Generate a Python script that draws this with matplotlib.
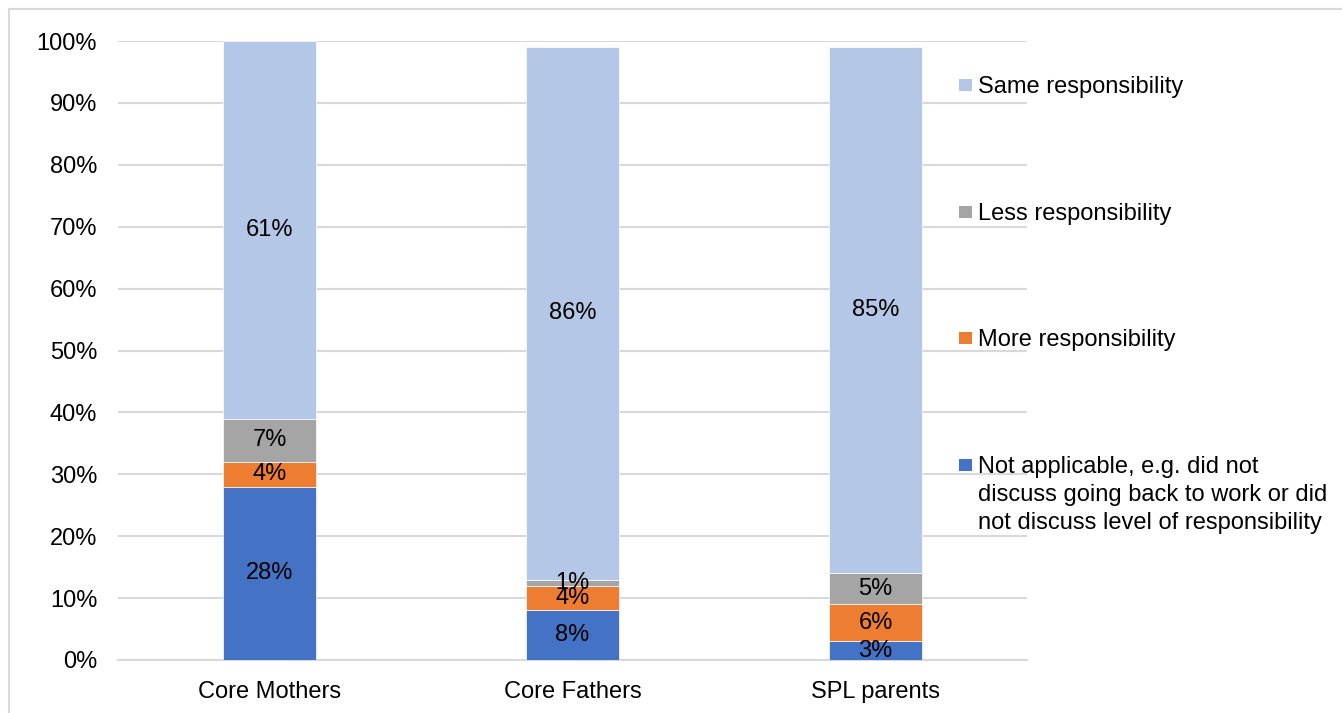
import matplotlib.pyplot as plt
import matplotlib.patches as patches
import numpy as np

plt.rcParams['font.family'] = ['Liberation Sans', 'DejaVu Sans']

categories = ['Core Mothers', 'Core Fathers', 'SPL parents']
series_names = [
    'Not applicable, e.g. did not\ndiscuss going back to work or did\nnot discuss level of responsibility',
    'More responsibility',
    'Less responsibility',
    'Same responsibility',
]
not_applicable = [28, 8, 3]
more_resp = [4, 4, 6]
less_resp = [7, 1, 5]
same_resp = [61, 86, 85]
series_colors = ['#4472C4', '#ED7D31', '#A5A5A5', '#B4C7E7']
ytick_labels = ['0%', '10%', '20%', '30%', '40%', '50%', '60%', '70%', '80%', '90%', '100%']

W, H = 1342, 713
fig = plt.figure(figsize=(W / 100, H / 100), dpi=100)
ax = fig.add_axes([118 / W, 1 - 660 / H, (1027 - 118) / W, (660 - 41) / H])

# chart frame (only left and top edges visible in the picture)
fig.patches.append(patches.Rectangle((9 / W, -0.1), 1.2, 1 - 9 / H + 0.1,
                                     transform=fig.transFigure, fill=False,
                                     edgecolor='#D9D9D9', linewidth=1.5))

x = np.arange(len(categories))
width = 0.31
bottom = np.zeros(len(categories))
all_series = [not_applicable, more_resp, less_resp, same_resp]
for vals, col in zip(all_series, series_colors):
    vals = np.array(vals, dtype=float) / 100
    ax.bar(x, vals, width, bottom=bottom, color=col, edgecolor='white',
           linewidth=0.5, zorder=3)
    for xi, b, v in zip(x, bottom, vals):
        ax.text(xi, b + v / 2, f'{round(v * 100)}%', ha='center', va='center',
                fontsize=17, color='black', zorder=4)
    bottom += vals

ax.set_xlim(-0.5, len(categories) - 0.5)
ax.set_ylim(0, 1)
ax.set_yticks(np.linspace(0, 1, 11))
ax.set_yticklabels(ytick_labels)
ax.set_xticks(x)
ax.set_xticklabels(categories)
ax.tick_params(axis='both', length=0, labelsize=17, colors='black')
ax.tick_params(axis='y', pad=15)
ax.tick_params(axis='x', pad=15)
ax.grid(axis='y', color='#D9D9D9', linewidth=1.5, zorder=0)
for s in ['top', 'right', 'left']:
    ax.spines[s].set_visible(False)
ax.spines['bottom'].set_color('#D9D9D9')
ax.spines['bottom'].set_linewidth(1.5)

# legend, placed by hand like the original
legend_y = [85, 212, 338, 465]
for name, col, yc in zip(series_names[::-1], series_colors[::-1], legend_y):
    fig.patches.append(patches.Rectangle((959 / W, 1 - (yc + 6) / H), 13 / W, 12 / H,
                                         transform=fig.transFigure, facecolor=col,
                                         edgecolor='none'))
    fig.text(978 / W, 1 - (yc - 9) / H, name, ha='left', va='top',
             fontsize=17, color='black', linespacing=1.36)

fig.savefig('out.png', dpi=100)
